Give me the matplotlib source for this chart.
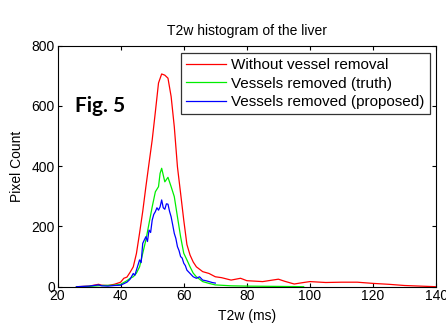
import matplotlib
matplotlib.use('Agg')
import matplotlib.pyplot as plt

# T2w bins (ms)
t2w_red = [26, 30, 33, 34, 36, 38, 40, 41, 42, 43, 44, 45, 46, 47, 48, 49, 50, 51, 52, 53,
           54, 55, 56, 57, 58, 59, 60, 61, 62, 63, 64, 66, 68, 70, 72, 75, 78, 80, 85,
           90, 92, 95, 98, 100, 105, 110, 115, 120, 125, 130, 135, 140]
count_red = [0, 2, 8, 5, 4, 8, 15, 28, 32, 48, 66, 110, 178, 250, 332, 410, 487, 580, 676, 706,
             702, 692, 631, 531, 398, 310, 221, 140, 105, 82, 66, 50, 44, 33, 30, 22, 28, 20, 17,
             25, 18, 9, 14, 17, 14, 15, 15, 11, 8, 4, 2, 0]

t2w_green = [26, 30, 34, 38, 40, 42, 43, 44, 45, 46, 47, 48, 49, 50, 51, 52, 52.5, 53, 54,
             55, 56, 57, 58, 59, 60, 61, 62, 63, 64, 66, 68, 70, 75, 80, 90, 98]
count_green = [0, 1, 4, 5, 8, 20, 28, 33, 45, 66, 111, 155, 210, 265, 315, 332, 376, 393, 348,
               363, 332, 299, 232, 166, 111, 89, 66, 45, 33, 17, 11, 6, 3, 2, 1, 0]

t2w_blue = [26, 30, 33, 34, 36, 38, 40, 41, 42, 43, 44, 44.5, 45, 46, 46.5, 47, 48, 48.5, 49,
            49.5, 50, 50.5, 51, 51.5, 52, 52.5, 53, 53.5, 54, 54.5, 55, 55.5, 56, 56.5, 57,
            57.5, 58, 58.5, 59, 59.5, 60, 60.5, 61, 62, 63, 64, 65, 66, 67, 68, 69, 70]
count_blue = [0, 2, 6, 3, 2, 4, 5, 10, 15, 25, 44, 38, 55, 89, 80, 144, 166, 150, 188,
              180, 221, 240, 249, 262, 254, 265, 288, 262, 257, 275, 274, 250, 232, 205, 177,
              160, 133, 120, 100, 95, 78, 70, 55, 44, 33, 28, 33, 22, 20, 17, 14, 12]

labels = ['Without vessel removal', 'Vessels removed (truth)', 'Vessels removed (proposed)']

plt.rcParams['font.family'] = ['Liberation Sans', 'DejaVu Sans']

fig = plt.figure(figsize=(4.46, 3.26), dpi=100)
ax = fig.add_axes([0.129, 0.1205, 0.849, 0.7395])

ax.plot(t2w_red, count_red, color='#ff0000', linewidth=0.9, label=labels[0])
ax.plot(t2w_green, count_green, color='#00ee00', linewidth=0.9, label=labels[1])
ax.plot(t2w_blue, count_blue, color='#0000ff', linewidth=0.9, label=labels[2])

ax.set_xlim(20, 140)
ax.set_ylim(0, 800)
ax.set_xticks([20, 40, 60, 80, 100, 120, 140])
ax.set_yticks([0, 200, 400, 600, 800])
ax.tick_params(direction='in', top=True, right=True, labelsize=10, length=3, pad=2)
for s in ax.spines.values():
    s.set_linewidth(0.8)

ax.set_title('T2w histogram of the liver', fontsize=10, pad=8)
ax.set_xlabel('T2w (ms)', fontsize=10, labelpad=4)
ax.set_ylabel('Pixel Count', fontsize=10, labelpad=5)

ax.text(25.4, 600, 'Fig. 5', fontsize=15, fontweight='bold', family=['Lato', 'DejaVu Sans'],
        va='center', ha='left')

leg = ax.legend(loc='upper right', bbox_to_anchor=(0.984, 0.971), fontsize=11,
                frameon=True, fancybox=False, borderaxespad=0, handlelength=2.6,
                handletextpad=0.35, labelspacing=0.3, borderpad=0.35)
leg.get_frame().set_edgecolor('black')
leg.get_frame().set_linewidth(0.9)

fig.savefig('out.png', dpi=100)
